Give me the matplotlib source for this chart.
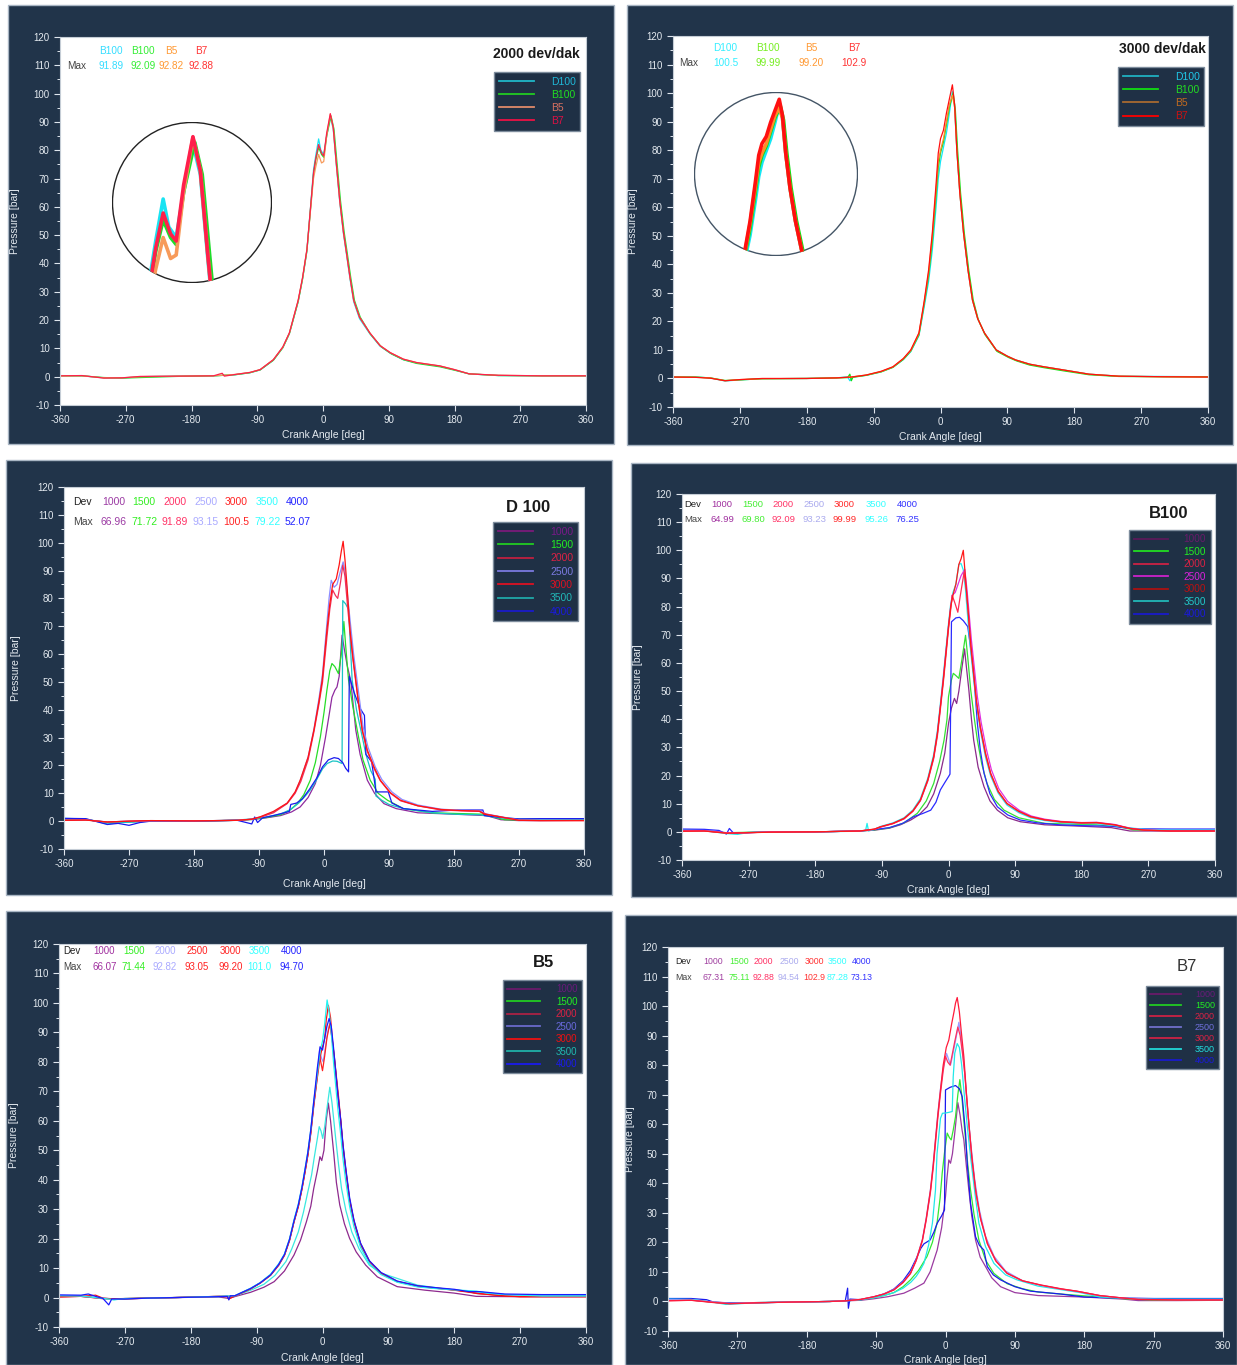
import matplotlib
matplotlib.use("Agg")
import matplotlib.pyplot as plt
from matplotlib.lines import Line2D
from matplotlib.patches import Rectangle, Circle
from matplotlib.ticker import MultipleLocator

plt.rcParams["font.family"] = ["Liberation Sans", "DejaVu Sans"]
plt.rcParams["axes.unicode_minus"] = False

W, H = 1237, 1365
NAVY = "#21344a"
LEG_BG = "#1f3045"
TXT = "#e3e9ef"

# ---------------- data (crank angle [deg], pressure [bar]) ----------------
ANGLE_TICKS = [-360, -270, -180, -90, 0, 90, 180, 270, 360]
FUELS = ["D100", "B100", "B5", "B7"]
P1_HEAD = ["B100", "B100", "B5", "B7"]
P1_MAX = [91.89, 92.09, 92.82, 92.88]
P2_MAX = [100.5, 99.99, 99.20, 102.9]
SPEEDS = ["1000", "1500", "2000", "2500", "3000", "3500", "4000"]
D100_MAX = [66.96, 71.72, 91.89, 93.15, 100.5, 79.22, 52.07]
B100_MAX = [64.99, 69.80, 92.09, 93.23, 99.99, 95.26, 76.25]
B5_MAX = [66.07, 71.44, 92.82, 93.05, 99.20, 101.0, 94.70]
B7_MAX = [67.31, 75.11, 92.88, 94.54, 102.9, 87.28, 73.13]

# 2000 dev/dak
P1_D100 = [(-360, 0.4), (-330, 0.3), (-300, -0.4), (-275, -0.5), (-250, 0), (-200, 0.2), (-150, 0.3), (-120, 0.7),
           (-100, 1.4), (-86, 2.4), (-68, 5.8), (-55, 10.3), (-46, 15.3), (-34, 26.5), (-28, 34.5), (-22, 44.5),
           (-17, 60), (-13, 73), (-10, 78), (-6, 84), (-3, 80), (1, 78.5), (5, 85), (10, 91.9), (14, 87.5),
           (18, 75.5), (23, 61.5), (28, 50.5), (32, 43.5), (37, 34.5), (42, 26.5), (50, 20.5), (64, 15.2),
           (78, 10.8), (92, 8.3), (110, 6), (128, 4.9), (160, 3.7), (180, 2.4), (200, 1), (240, 0.4), (300, 0.3),
           (360, 0.3)]
P1_B100 = [(-360, 0.3), (-330, 0.3), (-300, -0.3), (-275, -0.5), (-250, -0.3), (-200, 0.1), (-150, 0.3), (-120, 0.7),
           (-100, 1.4), (-86, 2.4), (-68, 5.8), (-55, 10.2), (-46, 15.2), (-34, 26.5), (-28, 34.5), (-22, 44.5),
           (-17, 59.5), (-13, 71.5), (-10, 76.5), (-6, 81), (-2, 78.5), (1, 77.5), (5, 85), (11, 92.1), (15, 87.5),
           (19, 76), (24, 62), (29, 51), (33, 44), (38, 35), (43, 27), (51, 21), (65, 15), (80, 10.5), (94, 8),
           (110, 6), (128, 4.7), (160, 3.5), (180, 2.3), (200, 1), (240, 0.4), (300, 0.3), (360, 0.3)]
P1_B5 = [(-360, 0.3), (-330, 0.3), (-300, -0.4), (-275, -0.4), (-250, 0), (-200, 0.2), (-150, 0.3), (-120, 0.8),
         (-100, 1.5), (-86, 2.5), (-68, 6), (-55, 10.4), (-46, 15.4), (-34, 26.8), (-28, 34.8), (-22, 44.8),
         (-17, 59), (-13, 70), (-10, 74), (-6, 78.5), (-2, 75.5), (1, 76), (5, 85), (10, 92.8), (14, 88), (18, 76),
         (23, 62), (28, 51), (32, 44), (37, 35), (42, 27), (50, 21), (64, 15.5), (78, 11), (92, 8.5), (110, 6.2),
         (128, 5), (160, 3.8), (180, 2.5), (200, 1), (240, 0.5), (300, 0.3), (360, 0.3)]
P1_B7 = [(-360, 0.3), (-330, 0.4), (-300, -0.5), (-275, -0.4), (-250, 0.1), (-200, 0.2), (-150, 0.3), (-138, 1.2),
         (-135, 0.2), (-120, 0.8), (-100, 1.5), (-86, 2.5), (-68, 6), (-55, 10.5), (-46, 15.5), (-34, 27),
         (-28, 35), (-22, 45), (-17, 60), (-13, 72), (-10, 77), (-6, 82), (-2, 79), (1, 78), (5, 86), (10, 92.9),
         (14, 88), (18, 76), (23, 62), (28, 51), (32, 44), (37, 35), (42, 27), (50, 21), (64, 15.5), (78, 11),
         (92, 8.5), (110, 6.2), (128, 5), (160, 3.8), (180, 2.5), (200, 1), (240, 0.5), (300, 0.3), (360, 0.3)]

# 3000 dev/dak
P2_D100 = [(-360, 0.5), (-330, 0.5), (-310, 0.2), (-290, -0.9), (-270, -0.5), (-240, -0.1), (-180, 0), (-140, 0.2),
           (-125, 0.6), (-122, -0.8), (-118, 0.5), (-100, 1.1), (-80, 2.3), (-64, 3.9), (-50, 6.6), (-40, 9.4),
           (-29, 15), (-22, 25), (-16, 34), (-11, 45), (-6, 60), (-3, 70), (0, 76), (4, 81), (8, 86), (12, 93),
           (16, 100.5), (19, 95), (22, 80), (26, 65), (31, 51), (37, 38), (43, 27.5), (50, 21), (59, 16), (75, 10),
           (90, 7.8), (101, 6.5), (120, 5), (139, 4.1), (165, 3), (200, 1.5), (240, 0.8), (300, 0.7), (360, 0.6)]
P2_B100 = [(-360, 0.5), (-330, 0.5), (-310, 0.2), (-290, -0.7), (-270, -0.5), (-240, -0.1), (-180, 0), (-140, 0.2),
           (-125, 0.3), (-122, 1.5), (-120, -0.8), (-118, 0.4), (-100, 1.1), (-80, 2.3), (-64, 3.9), (-50, 6.7),
           (-40, 9.6), (-29, 15.3), (-22, 26), (-16, 36), (-11, 48), (-6, 64), (-3, 74), (0, 79), (4, 83), (8, 89),
           (12, 95), (17, 100), (20, 94), (23, 80), (27, 65), (32, 51), (38, 38), (44, 27.5), (51, 20.5), (60, 15.3),
           (76, 9.5), (92, 7.3), (103, 6.1), (120, 4.7), (139, 3.8), (165, 2.7), (200, 1.3), (240, 0.7), (300, 0.6),
           (360, 0.6)]
P2_B5 = [(-360, 0.5), (-330, 0.4), (-310, 0.2), (-290, -0.8), (-270, -0.4), (-240, -0.1), (-180, 0), (-140, 0.2),
         (-120, 0.5), (-100, 1.2), (-80, 2.4), (-64, 4), (-50, 6.9), (-40, 9.8), (-29, 15.7), (-22, 26.5), (-16, 37),
         (-11, 50), (-6, 66), (-3, 76), (0, 80), (4, 84), (8, 90), (12, 96), (16, 99.2), (19, 95), (22, 80),
         (26, 65), (31, 51), (37, 38), (43, 27.5), (50, 21), (59, 16), (75, 10), (90, 7.8), (101, 6.5), (120, 5),
         (139, 4.1), (165, 3), (200, 1.5), (240, 0.8), (300, 0.6), (360, 0.5)]
P2_B7 = [(-360, 0.5), (-330, 0.4), (-310, 0.1), (-290, -0.8), (-270, -0.4), (-240, 0), (-180, 0), (-140, 0.2),
         (-120, 0.5), (-100, 1.2), (-80, 2.5), (-64, 4.1), (-50, 7), (-40, 10), (-29, 16), (-22, 27), (-16, 38),
         (-11, 51), (-6, 68), (-3, 79), (0, 84), (4, 87), (8, 93), (12, 98), (16, 102.9), (19, 96), (22, 80),
         (26, 65), (31, 51), (37, 38), (43, 27.5), (50, 21), (59, 16), (75, 10), (90, 7.8), (101, 6.5), (120, 5),
         (139, 4.1), (165, 3), (200, 1.5), (240, 0.8), (300, 0.6), (360, 0.5)]

# D 100
D100_1000 = [(-360, 0.5), (-330, 0.6), (-300, -0.5), (-280, -0.3), (-240, 0), (-180, 0), (-120, 0.3), (-100, 0.6),
             (-80, 1.2), (-60, 2), (-45, 3.3), (-33, 5.1), (-22, 8.5), (-12, 13.5), (-5, 20), (2, 30), (7, 38),
             (11, 44.5), (15, 47), (18, 48.2), (21, 52), (25, 66.8), (28, 62), (32, 56), (37, 50.5), (44, 32.7),
             (50, 24), (60, 14.7), (70, 10), (83, 6.3), (100, 4.5), (130, 3), (180, 2.5), (225, 2), (245, 0.5),
             (270, 0.2), (300, 0.2), (360, 0.3)]
D100_1500 = [(-360, 0.6), (-330, 0.5), (-300, -0.4), (-280, -0.3), (-240, 0), (-180, 0), (-120, 0.3), (-100, 0.6),
             (-80, 1.3), (-60, 2.3), (-48, 3.8), (-37, 6.3), (-28, 9.5), (-19, 14.7), (-12, 21), (-5, 30.3), (0, 39),
             (4, 47), (8, 54), (11, 56.6), (15, 55.5), (20, 53), (24, 60), (27.5, 71.7), (30, 63), (34, 50.6),
             (40, 41), (46, 32.7), (54, 22), (64, 14.7), (75, 10), (88, 7.5), (110, 4.5), (150, 3), (220, 2.5),
             (235, 1.5), (250, 0.5), (300, 0.3), (360, 0.4)]
D100_2000 = [(-360, 0.3), (-330, 0.4), (-300, -0.3), (-270, 0), (-240, 0.2), (-180, 0.1), (-120, 0.3), (-100, 0.7),
             (-88, 1.4), (-70, 3), (-51, 6.3), (-40, 10), (-32, 14.3), (-22, 22), (-14, 32), (-7, 42), (-2, 50),
             (4, 66), (8, 76), (12, 83), (16, 81), (19, 80), (23, 86), (26, 91.9), (29, 88), (33, 76), (36, 68),
             (40, 58), (44, 50), (48, 42), (53, 32.5), (60, 25), (70, 18.5), (78, 14.5), (92, 10), (106, 7.3),
             (130, 5.5), (162, 4), (190, 3.7), (215, 3.5), (225, 2.5), (245, 1.5), (260, 0.8), (270, 0.3),
             (300, 0.2), (360, 0.2)]
D100_2500 = [(-360, 0.4), (-330, 0.5), (-300, -0.3), (-270, 0), (-240, 0.1), (-180, 0.1), (-120, 0.3), (-100, 0.7),
             (-88, 1.5), (-70, 3.3), (-51, 6.4), (-40, 10.3), (-33, 14.5), (-22, 23), (-14, 33), (-7, 44), (-2, 53),
             (3, 68), (7, 80), (10, 86.5), (14, 84), (18, 85), (22, 89), (26.5, 93.1), (29, 90), (33, 80), (37, 70),
             (41, 60), (45, 52), (49, 44), (54, 34), (61, 26.5), (71, 19.5), (80, 15), (94, 10.5), (108, 7.8),
             (130, 5.8), (162, 4.3), (190, 3.9), (215, 3.7), (224, 2.6), (245, 1.6), (262, 0.8), (272, 0.4),
             (300, 0.3), (360, 0.3)]
D100_3000 = [(-360, 0.3), (-330, 0.4), (-300, -0.3), (-270, 0), (-240, 0.2), (-180, 0.1), (-120, 0.3), (-100, 0.7),
             (-88, 1.6), (-70, 3.5), (-51, 6.5), (-40, 10.5), (-33, 14.7), (-22, 23), (-14, 32.7), (-7, 43),
             (-2.5, 50.6), (4, 68.6), (8, 78), (12, 85), (17, 87), (21, 92), (24, 97), (26.5, 100.5), (29, 94),
             (32, 84), (36, 68.6), (40, 59), (44, 50.6), (48, 42), (53, 32.7), (60, 25.5), (70, 19), (78, 14.7),
             (92, 10.2), (106, 7.5), (130, 5.5), (162, 4.2), (190, 3.8), (215, 3.6), (222, 2.5), (245, 1.5),
             (260, 0.8), (270, 0.3), (300, 0.2), (360, 0.2)]
D100_3500 = [(-360, 1.0), (-330, 0.8), (-300, -1.0), (-280, -0.5), (-240, 0), (-180, 0), (-120, 0.4), (-100, 0.8),
             (-80, 1.5), (-60, 2.6), (-46, 4.2), (-35, 6.5), (-26, 9), (-19, 11.2), (-10, 15), (-2, 18.8), (4.4, 20.7),
             (12, 21.6), (18, 21.5), (25, 20.7), (26, 79.2), (30, 78), (34, 76), (39, 50.6), (45, 40), (51, 32.7),
             (58, 24), (65, 18), (71, 15), (72, 9), (80, 7.5), (90, 6), (110, 4.5), (150, 3), (180, 2.5), (215, 2.3),
             (240, 1.3), (270, 0.8), (300, 0.8), (360, 0.8)]
D100_4000 = [(-360, 1.0), (-330, 0.9), (-300, -1.2), (-285, -0.8), (-270, -1.5), (-255, -0.5), (-240, 0), (-180, 0),
             (-120, 0.3), (-100, -1.0), (-96, 1.5), (-92, -0.5), (-85, 1.2), (-70, 2), (-55, 3), (-48, 3.5),
             (-46, 6), (-38, 6.5), (-30, 8), (-20, 11.5), (-10, 15.5), (-2, 19.5), (6, 22), (14, 22.8), (20, 22.5),
             (26, 21), (30, 19), (34, 17.7), (35, 52), (42, 46), (50, 40.5), (56, 38), (58, 24), (66, 21.3),
             (72, 10.5), (89, 10.5), (94, 6.5), (110, 4.5), (150, 3.5), (185, 4), (220, 4), (222, 2), (250, 1.2),
             (270, 0.8), (300, 0.9), (360, 0.9)]

# B100
B100_1000 = [(-360, 0.6), (-330, 0.5), (-300, -0.4), (-280, -0.3), (-240, 0), (-180, 0), (-120, 0.3), (-100, 0.6),
             (-80, 1.3), (-65, 2.5), (-51, 4.2), (-40, 6), (-29, 8.9), (-20, 13.5), (-11, 20.8), (-5, 28), (0, 38.5),
             (4, 44), (8, 47.4), (11, 45.6), (14, 50), (18, 58), (21.7, 65), (24, 59), (27.5, 50.4), (31, 40),
             (34, 32.6), (40, 23), (48, 16), (56, 11), (66, 7.7), (80, 5), (97, 3.6), (130, 2.5), (180, 2),
             (220, 1.5), (245, 0.3), (300, 0.3), (360, 0.4)]
B100_1500 = [(-360, 0.5), (-330, 0.4), (-300, -0.3), (-280, -0.2), (-240, 0), (-180, 0), (-120, 0.3), (-100, 0.7),
             (-80, 1.4), (-60, 3.2), (-42, 6.6), (-30, 11), (-20, 17.2), (-12, 25), (-6, 32.6), (-2, 40), (0, 48),
             (4, 54), (6.5, 56.3), (10, 55.5), (14, 54.5), (18, 61), (23, 69.8), (26, 62), (30, 50.4), (35, 40),
             (39, 32.6), (45, 24), (52, 17.2), (62, 11.5), (75, 7.7), (95, 5), (130, 3), (200, 2.5), (230, 1.8),
             (250, 0.7), (300, 0.5), (360, 0.5)]
B100_2000 = [(-360, 0.3), (-330, 0.3), (-300, -0.4), (-280, -0.3), (-240, -0.1), (-180, 0), (-120, 0.3), (-100, 0.9),
             (-92, 1.7), (-75, 2.9), (-60, 4.6), (-48, 7.3), (-38, 11), (-28, 18), (-20, 26), (-15, 34), (-11, 43.5),
             (-7, 53), (-4, 61), (0, 72), (3, 79), (5, 84), (9, 81), (12.6, 78), (16, 84), (21, 92.1), (24, 86),
             (27, 77), (30, 66), (34, 55.5), (38, 45.5), (43, 37), (50, 27.5), (57, 20.5), (67, 14.3), (79, 10),
             (95, 7.2), (111, 5.3), (130, 4.2), (152, 3.5), (180, 3.1), (200, 3.2), (225, 2.4), (245, 1.2),
             (265, 0.6), (300, 0.3), (360, 0.3)]
B100_2500 = [(-360, 0.4), (-330, 0.4), (-300, -0.3), (-280, -0.4), (-240, 0), (-180, 0), (-120, 0.3), (-100, 0.9),
             (-92, 1.7), (-75, 3), (-60, 4.7), (-48, 7.4), (-38, 11.2), (-28, 18.3), (-20, 26.5), (-15, 35),
             (-11, 44.5), (-7, 54.5), (-4, 62.5), (0, 73), (3, 80), (5, 84), (9, 85), (13, 88), (17, 91), (22, 93.2),
             (25, 86), (28, 77), (31, 68), (35, 58), (39, 48), (44, 39), (51, 29.5), (58, 22), (68, 15.3), (80, 10.8),
             (96, 7.6), (112, 5.6), (130, 4.5), (152, 3.7), (180, 3.3), (200, 3.4), (225, 2.6), (245, 1.3),
             (265, 0.7), (300, 0.4), (360, 0.4)]
B100_3000 = [(-360, 0.2), (-330, 0.3), (-300, -0.5), (-280, -0.4), (-240, -0.1), (-180, 0), (-120, 0.3), (-100, 1.0),
             (-92, 1.8), (-75, 3), (-60, 4.8), (-48, 7.5), (-38, 11.3), (-28, 18.5), (-20, 26.7), (-15, 35),
             (-11, 44.4), (-7, 54), (-4, 62.2), (0, 73), (3, 80), (6, 84), (10, 88), (14, 95), (17, 97), (20, 100),
             (23, 90), (26, 80), (30, 67), (34, 56.3), (38, 46), (43, 37.3), (50, 28), (57, 20.8), (67, 14.5),
             (79, 10.1), (95, 7.3), (111, 5.4), (130, 4.3), (152, 3.6), (180, 3.2), (200, 3.3), (225, 2.5),
             (245, 1.2), (265, 0.6), (300, 0.3), (360, 0.3)]
B100_3500 = [(-360, 0.5), (-330, 0.4), (-300, -0.6), (-285, -0.9), (-270, -0.2), (-240, 0), (-180, 0), (-125, 0.2),
             (-112, 0.5), (-110, 3), (-108, 0.3), (-100, 0.9), (-92, 1.9), (-75, 3.2), (-60, 5), (-48, 7.8),
             (-38, 11.8), (-28, 19), (-20, 27.5), (-15, 36), (-11, 45.5), (-7, 55.5), (-4, 63.5), (0, 74), (3, 81),
             (6, 85), (10, 88), (14, 95), (17, 95.3), (20, 93), (23, 86), (26, 76), (30, 64), (34, 54), (38, 45),
             (43, 36), (50, 26.5), (57, 19.8), (67, 13.8), (79, 9.5), (95, 6.8), (111, 5), (130, 4), (152, 3.3),
             (180, 2.9), (200, 2.9), (225, 2.2), (245, 1.4), (265, 0.9), (300, 0.6), (360, 0.6)]
B100_4000 = [(-360, 1.0), (-330, 0.9), (-310, 0.5), (-300, -0.8), (-296, 1.2), (-290, -0.6), (-270, -0.3),
             (-240, 0), (-180, 0), (-120, 0.3), (-100, 0.8), (-80, 1.5), (-62, 3), (-47, 5.4), (-35, 6.5),
             (-24, 7.7), (-17, 10.5), (-11, 14.9), (-5, 17.5), (0, 19.6), (2, 20.5), (4, 74.6), (10, 76),
             (15, 76.2), (20, 75), (26, 72.9), (30, 65), (34, 56.3), (39, 38.5), (43, 29), (48, 20.8), (56, 13.5),
             (66, 8.9), (80, 6), (97, 4.2), (120, 3.2), (150, 2.5), (180, 2.2), (220, 2), (250, 1.1), (300, 1),
             (360, 1)]

# B5
B5_1000 = [(-360, 0.3), (-330, 0.4), (-300, -0.3), (-280, -0.5), (-250, -0.3), (-200, 0), (-142, 0.2), (-128, -0.3),
           (-120, 0.3), (-98, 1.8), (-80, 3.5), (-66, 5.4), (-52, 9), (-39, 14.4), (-30, 19.5), (-22, 25.7),
           (-16, 31), (-12, 37), (-7, 43), (-3.5, 47.8), (-1, 46.5), (2, 50), (5, 60), (8, 66), (11, 60),
           (15.6, 48.4), (19, 39), (23.6, 31.4), (30, 25), (37, 20.1), (46, 15.5), (59, 11), (75, 7), (102, 3.7),
           (140, 2.5), (180, 1.5), (210, 0.4), (260, 0.3), (300, 0.3), (360, 0.3)]
B5_1500 = [(-360, 0.5), (-330, 0.5), (-300, -0.3), (-285, -0.8), (-270, -0.3), (-240, -0.1), (-200, 0), (-142, 0.3),
           (-120, 0.5), (-98, 2.5), (-80, 4.5), (-65, 7.5), (-50, 12.2), (-42, 16.5), (-33, 22.3), (-26, 29),
           (-20, 35.9), (-15, 41.5), (-11.5, 47.2), (-7, 54), (-4.5, 58), (-2, 56.5), (0.3, 54), (3, 58), (6, 64),
           (10, 71.4), (13, 66), (18, 54), (22, 45), (26, 37), (32, 29.5), (40, 22.3), (50, 16.5), (64, 11),
           (80, 8.3), (102, 6.5), (130, 4.2), (180, 2.5), (215, 1.8), (250, 1), (300, 0.6), (360, 0.6)]
B5_2000 = [(-360, 0.5), (-330, 0.4), (-300, -0.2), (-280, -0.5), (-250, -0.2), (-200, 0), (-142, 0.4), (-120, 0.5),
           (-98, 3), (-85, 4.9), (-71, 7.5), (-60, 10.8), (-52, 14.2), (-45, 19.3), (-39, 25.5), (-33, 30.8),
           (-28, 36.8), (-24, 42.3), (-20, 48.2), (-16, 55.5), (-12, 64.5), (-7, 75), (-4, 84), (-1, 81), (1, 80),
           (4, 85), (7, 90), (10, 92.8), (13, 88), (16, 82), (19, 74), (22, 67), (25, 59.5), (28, 51), (32, 42.7),
           (37, 33), (43, 25.7), (52, 18), (64, 12.2), (80, 8.2), (102, 5.4), (130, 3.8), (157, 3.1), (180, 2.6),
           (200, 2), (211, 1.3), (249, 0.8), (270, 0.6), (300, 0.4), (360, 0.4)]
B5_2500 = [(-360, 0.3), (-330, 0.4), (-300, -0.4), (-280, -0.4), (-250, -0.2), (-200, 0), (-142, 0.4), (-120, 0.5),
           (-98, 3), (-85, 4.9), (-71, 7.6), (-60, 11), (-52, 14.4), (-45, 19.5), (-39, 25.7), (-33, 31), (-28, 37),
           (-24, 42.5), (-20, 48.4), (-16, 56), (-12, 65.3), (-7, 76), (-4, 82), (0, 77), (3, 82), (6, 88),
           (10, 93), (13, 88), (16, 82), (19, 75), (22, 68), (25, 60), (28, 51.5), (32, 43), (37, 33.3), (43, 26),
           (52, 18.3), (64, 12.4), (80, 8.3), (102, 5.5), (130, 3.9), (157, 3.2), (180, 2.6), (200, 2), (211, 1.4),
           (249, 0.6), (270, 0.3), (300, 0.3), (360, 0.3)]
B5_3000 = [(-360, 0.2), (-330, 0.4), (-310, 0.8), (-300, -0.2), (-280, -0.6), (-250, -0.3), (-200, 0), (-142, 0.4),
           (-130, 0.3), (-128, -0.5), (-120, 0.5), (-98, 3), (-85, 5), (-71, 7.6), (-60, 11), (-52, 14.4),
           (-45, 19.5), (-39, 25.7), (-33, 31), (-28, 37), (-24, 42.5), (-20, 48.4), (-16, 56), (-12, 65.3),
           (-6, 76.6), (-3, 82), (0, 85), (3, 88), (5, 94), (8, 99.2), (11, 95), (14, 86), (18, 76.6), (21, 69),
           (25, 59.7), (28, 51), (32, 42.7), (37, 33), (43, 25.7), (52, 18), (64, 12.2), (80, 8.2), (102, 5.4),
           (130, 3.8), (157, 3.1), (180, 2.5), (211, 1.4), (249, 0.5), (270, 0.3), (300, 0.3), (360, 0.3)]
B5_3500 = [(-360, 0.6), (-330, 0.5), (-300, -0.3), (-285, -0.7), (-270, -0.4), (-240, -0.2), (-200, 0), (-142, 0.4),
           (-120, 0.6), (-98, 3.2), (-85, 5.1), (-71, 7.9), (-60, 11.4), (-52, 14.8), (-45, 20), (-39, 26.3),
           (-33, 31.8), (-28, 37.8), (-24, 43.5), (-20, 49.5), (-16, 57), (-12, 66.5), (-6, 78), (-3, 84), (0, 87),
           (3, 93), (6.3, 101), (9, 97), (12, 90), (15, 80), (18, 72), (21, 64), (25, 55), (28, 47), (32, 39),
           (37, 31), (43, 24), (52, 17), (64, 11.5), (80, 7.8), (102, 5.2), (130, 3.6), (157, 3), (180, 2.6),
           (210, 2.2), (225, 1.5), (249, 1), (300, 0.5), (360, 0.5)]
B5_4000 = [(-360, 0.9), (-330, 0.8), (-320, 1.2), (-310, 0.4), (-300, -0.3), (-292, -2.5), (-288, -0.5), (-270, -0.5),
           (-240, -0.2), (-200, 0), (-142, 0.3), (-130, 0.4), (-128, -0.8), (-126, 0.6), (-120, 0.6), (-98, 3.1),
           (-85, 5), (-71, 7.7), (-60, 11.2), (-52, 14.6), (-45, 19.8), (-39, 26), (-33, 31.5), (-28, 37.5),
           (-24, 43.3), (-20, 49.3), (-16, 57), (-12, 66.5), (-7, 78), (-3.4, 85.1), (0, 84), (3, 88), (6, 92),
           (9, 94.7), (12, 92), (15, 85), (18, 77), (21, 69), (25, 60), (28, 52), (32, 43.5), (37, 34), (43, 26.3),
           (52, 18.5), (64, 12.5), (80, 8.5), (102, 5.6), (130, 4), (157, 3.3), (180, 2.8), (200, 2), (215, 2),
           (249, 1.2), (300, 1), (360, 1)]

# B7
B7_1000 = [(-360, 0.4), (-330, 0.5), (-300, -0.2), (-280, -0.5), (-250, -0.4), (-200, -0.2), (-150, 0), (-130, 0.2),
           (-110, 0.4), (-93, 0.9), (-75, 1.6), (-54, 2.8), (-40, 4.5), (-28, 6.2), (-20, 10), (-10.8, 17.4),
           (-5, 25), (0, 35.5), (2, 42), (4.3, 47.9), (6.5, 46.8), (9, 50), (12, 57), (16, 67.3), (19, 63),
           (21.5, 58), (23.8, 54.7), (27, 46), (30.3, 37.7), (34, 29), (39, 20.8), (45, 15), (52, 11.8), (60, 8),
           (71.5, 5), (90, 3), (120, 2), (180, 1.5), (230, 0.8), (250, 0.3), (300, 0.3), (360, 0.4)]
B7_1500 = [(-360, 0.5), (-330, 0.5), (-300, -0.3), (-280, -0.6), (-250, -0.4), (-200, -0.2), (-150, 0), (-130, 0.2),
           (-110, 0.6), (-93, 1.3), (-80, 2), (-67, 3), (-55, 5), (-45.5, 7.3), (-35, 10.5), (-24, 15.2), (-17, 20),
           (-11, 26.5), (-7, 35), (-4.3, 43.4), (-1, 51), (2.2, 57), (5, 55.5), (7.4, 54.7), (10, 58), (13, 62.6),
           (16, 70), (18.6, 75.1), (21, 70), (23.5, 62), (26, 54.7), (29, 46), (32.5, 37.7), (37, 29.5),
           (43.3, 20.8), (52, 14), (62.8, 9.5), (80, 6), (100, 4.3), (120, 3.2), (150, 2.5), (200, 1.5), (240, 0.8),
           (270, 0.5), (300, 0.5), (360, 0.5)]
B7_2000 = [(-360, 0.3), (-330, 0.4), (-300, -0.3), (-280, -0.7), (-250, -0.5), (-200, -0.2), (-150, 0), (-130, 0.2),
           (-110, 0.7), (-93, 1.6), (-80, 2.5), (-67, 3.9), (-55, 6.4), (-45.5, 9.4), (-38, 13.8), (-30, 20.5),
           (-25, 27.5), (-19.5, 37), (-16, 45), (-13, 53.5), (-10, 62), (-6.5, 70.5), (-3, 78), (0, 83), (3, 81),
           (6, 80), (9, 84), (12, 88), (16, 92.9), (19, 90), (22, 84), (25, 77), (28, 67), (31, 58), (35, 47),
           (40, 36), (46, 27.5), (55, 19.3), (66, 13.5), (80, 9.5), (100, 7), (123.5, 5.5), (150, 4.2), (170, 3.5),
           (200, 2), (225, 1.3), (250, 0.7), (300, 0.5), (360, 0.5)]
B7_2500 = [(-360, 0.6), (-330, 0.5), (-300, -0.2), (-280, -0.6), (-250, -0.4), (-200, -0.2), (-150, 0), (-130, 0.2),
           (-110, 0.7), (-93, 1.6), (-80, 2.6), (-67, 4), (-55, 6.6), (-45.5, 9.6), (-38, 14.1), (-30, 21),
           (-25, 28.3), (-19.5, 38), (-16, 46.5), (-13, 55), (-10, 63.5), (-6.5, 72), (-3, 79), (1.3, 84), (4, 82),
           (6.5, 80), (9, 83), (12, 87), (15, 91), (17.3, 94.5), (20, 90), (23, 83), (26, 74), (29, 64), (33, 53),
           (38, 41), (44, 31), (52, 22), (63, 15.3), (78, 10.3), (100, 7), (123.5, 5.5), (150, 4.2), (170, 3.4),
           (200, 2), (225, 1.3), (250, 0.8), (300, 0.6), (360, 0.6)]
B7_3000 = [(-360, 0.2), (-330, 0.4), (-300, -0.4), (-280, -0.8), (-250, -0.5), (-200, -0.2), (-150, 0), (-130, 0.2),
           (-110, 0.7), (-93, 1.6), (-80, 2.5), (-67, 3.9), (-55, 6.5), (-45.5, 9.5), (-38, 14), (-30, 20.8),
           (-25, 28), (-19.5, 37.7), (-16, 46), (-13, 54.7), (-10, 63), (-6.5, 71.6), (-3, 80), (1, 86),
           (4.3, 88.5), (8, 94), (11, 98), (13, 101), (15.2, 102.9), (18, 98), (21, 90), (23.8, 82.9), (27, 71),
           (30.3, 60.3), (34, 49), (39, 37.7), (45, 28.5), (54, 19.7), (65, 13.8), (80, 9.5), (100, 7),
           (123.5, 5.6), (150, 4.3), (170, 3.5), (200, 2), (225, 1.3), (250, 0.7), (300, 0.5), (360, 0.5)]
B7_3500 = [(-360, 0.8), (-330, 0.7), (-300, -0.3), (-285, -1.0), (-270, -0.8), (-250, -0.5), (-200, -0.2),
           (-150, 0), (-130, 0.2), (-110, 0.6), (-93, 1.3), (-80, 2), (-67, 3), (-55, 4.5), (-45, 6.5), (-38, 8.5),
           (-33, 10.5), (-28, 12.9), (-22, 19), (-17, 26.5), (-13, 37.7), (-11, 50), (-8, 58), (-6.5, 62),
           (-4, 63.7), (0, 63.8), (4, 64), (8.7, 64.3), (10, 76), (12, 84), (15.2, 87.3), (18, 86), (21, 80),
           (23.8, 71.6), (28, 60), (32.5, 49), (38, 37), (43.3, 26.5), (52, 18.5), (62.8, 12.9), (78, 9),
           (93, 7.3), (120, 5.2), (150, 4), (175, 3), (200, 1.5), (240, 1), (270, 0.8), (300, 0.8), (360, 0.8)]
B7_4000 = [(-360, 1.0), (-330, 1.0), (-310, 0.6), (-300, -0.3), (-280, -0.5), (-250, -0.5), (-200, -0.2),
           (-150, 0), (-130, 0.2), (-127, 4.5), (-126, -2.3), (-124, 0.8), (-110, 0.6), (-93, 1.5), (-80, 2.5),
           (-67, 4.2), (-55, 7), (-45.5, 10.5), (-38, 14.5), (-32, 18), (-28, 19.5), (-20, 20.8), (-15, 23.5),
           (-10.8, 26.5), (-5, 29), (-1.3, 31), (0, 71.6), (6, 72.5), (13, 73.1), (18, 72), (21.7, 69.3), (26, 57),
           (28.2, 46.8), (32.5, 33.2), (39, 21.9), (44, 19), (49.8, 17.4), (54.2, 11.8), (62, 9), (71.5, 7.3),
           (90, 5), (110, 3.5), (150, 2.5), (180, 1.5), (220, 1.2), (270, 1), (300, 1), (360, 1)]


# ---------------- drawing ----------------
def frac(x0, y0, x1, y1):
    return [x0 / W, 1 - y1 / H, (x1 - x0) / W, (y1 - y0) / H]


def panel(fig, frame, box, curves, colors, ylab, xlab):
    x0, y0, x1, y1 = frame
    fig.add_artist(Rectangle((x0 / W, 1 - y1 / H), (x1 - x0) / W, (y1 - y0) / H,
                             transform=fig.transFigure, facecolor=NAVY,
                             edgecolor="#a9b6c4", lw=1, zorder=-5))
    ax = fig.add_axes(frac(*box))
    for pts, c in zip(curves, colors):
        a, p = zip(*pts)
        ax.plot(a, p, color=c, lw=0.9)
    ax.set_xlim(-360, 360)
    ax.set_ylim(-10, 120)
    ax.set_xticks(ANGLE_TICKS)
    ax.yaxis.set_major_locator(MultipleLocator(10))
    ax.yaxis.set_minor_locator(MultipleLocator(5))
    ax.tick_params(colors="#dfe6ee", labelcolor=TXT, labelsize=7, length=4, width=0.8)
    ax.tick_params(which="minor", length=2, width=0.7, colors="#dfe6ee")
    for s in ax.spines.values():
        s.set_color("#c5cdd6")
        s.set_linewidth(0.8)
    ax.set_xlabel("Crank Angle [deg]", color=TXT, fontsize=7.5)
    ax.set_ylabel("Pressure [bar]", color=TXT, fontsize=7.5)
    ax.yaxis.set_label_coords(ylab, 0.5)
    ax.xaxis.set_label_coords(0.5, xlab)
    return ax


def fmt(v):
    return f"{v:.2f}" if v < 100 else f"{v:.1f}"


def header(ax, names, values, colors, xs, yn, yv, xk, fs, dev=True):
    kw = dict(transform=ax.transAxes, va="center", fontsize=fs)
    if dev:
        ax.text(xk, yn, "Dev", color="#222222", ha="left", **kw)
    ax.text(xk, yv, "Max", color="#444444", ha="left", **kw)
    for n, v, c, x in zip(names, values, colors, xs):
        ax.text(x, yn, n, color=c, ha="center", **kw)
        ax.text(x, yv, fmt(v), color=c, ha="center", **kw)


def legend(ax, labels, lcolors, tcolors, anchor, fs, spacing):
    handles = [Line2D([], [], color=c, lw=1.3) for c in lcolors]
    ax.legend(handles, labels, loc="upper right", bbox_to_anchor=anchor, borderaxespad=0,
              facecolor=LEG_BG, edgecolor="#7d8c9c", framealpha=1, fancybox=False,
              fontsize=fs, labelcolor=tcolors, handlelength=3.4, handletextpad=1.6,
              borderpad=0.45, labelspacing=spacing)


def title(ax, text, x, y, fs, bold=True):
    ax.text(x, y, text, transform=ax.transAxes, ha="center", va="center", fontsize=fs,
            fontweight="bold" if bold else "normal", color="#1a1a1a" if bold else "#333333")


def inset(fig, box, curves, colors, xlim, ylim, edge):
    ia = fig.add_axes(frac(*box))
    ia.set_xlim(*xlim)
    ia.set_ylim(*ylim)
    ia.axis("off")
    clip = Circle((0.5, 0.5), 0.5, transform=ia.transAxes)
    for pts, c in zip(curves, colors):
        a, p = zip(*pts)
        ln, = ia.plot(a, p, color=c, lw=2.6, solid_capstyle="butt")
        ln.set_clip_path(clip)
    ia.add_patch(Circle((0.5, 0.5), 0.497, transform=ia.transAxes, fill=False, ec=edge, lw=1.0))


fig = plt.figure(figsize=(W / 100, H / 100), dpi=100)
fig.patch.set_facecolor("white")

# --- 2000 dev/dak ---
c1 = ["#19e3f2", "#1fdc2a", "#f79a5a", "#ff1f4b"]
fuel1 = [P1_D100, P1_B100, P1_B5, P1_B7]
ax1 = panel(fig, (8, 5, 614, 444), (60, 37, 586, 405), fuel1, c1, -0.076, -0.068)
header(ax1, P1_HEAD, P1_MAX, ["#33ddff", "#33ee33", "#ff9933", "#ff3333"],
       [0.097, 0.158, 0.211, 0.268], 0.962, 0.921, 0.013, 7.2, dev=False)
legend(ax1, FUELS, ["#1fb8c8", "#22cc22", "#e08a6a", "#ee1144"],
       ["#1fb8d8", "#22dd22", "#d87060", "#dd1144"], (0.989, 0.905), 7.5, 0.3)
title(ax1, "2000 dev/dak", 0.905, 0.954, 10)
inset(fig, (112, 122, 272, 283), fuel1, c1, (-33.5, 52.5), (72, 95), "#222222")

# --- 3000 dev/dak ---
c2 = ["#14e6f5", "#12e012", "#ff8c2a", "#ff1010"]
fuel2 = [P2_D100, P2_B100, P2_B5, P2_B7]
ax2 = panel(fig, (627, 5, 1233, 445), (673, 36, 1208, 407), fuel2, c2, -0.065, -0.067)
header(ax2, FUELS, P2_MAX, ["#33eeff", "#77ee22", "#ff9933", "#ff3333"],
       [0.098, 0.178, 0.259, 0.338], 0.968, 0.927, 0.011, 7.2, dev=False)
legend(ax2, FUELS, ["#1fb0c0", "#11dd11", "#a86a30", "#ff0000"],
       ["#20c8e8", "#22dd22", "#c06a20", "#cc1111"], (0.993, 0.916), 7.5, 0.3)
title(ax2, "3000 dev/dak", 0.914, 0.965, 10)
inset(fig, (694, 92, 858, 256), fuel2, c2, (-63, 89), (36, 106), "#445566")

# --- D 100 ---
ax3 = panel(fig, (6, 460, 612, 895), (64, 487, 584, 849),
            [D100_1000, D100_1500, D100_3500, D100_4000, D100_2500, D100_2000, D100_3000],
            ["#8e2a9e", "#27dd27", "#19c4c4", "#1a1aee", "#8c8cff", "#f0305a", "#ff1414"], -0.083, -0.083)
header(ax3, SPEEDS, D100_MAX, ["#9b3aa3", "#33ee22", "#ff3366", "#aaaaff", "#ff2222", "#33ffff", "#2222ff"],
       [0.096, 0.154, 0.213, 0.273, 0.332, 0.391, 0.449], 0.959, 0.904, 0.018, 7.5)
legend(ax3, SPEEDS, ["#7a1a7a", "#22cc22", "#c02040", "#7a7ae0", "#dd1122", "#20a8a8", "#1a1acc"],
       ["#7a1a8a", "#22ee22", "#dd2244", "#7a7ae0", "#dd1122", "#22b8b8", "#1a1add"], (0.988, 0.903), 7.5, 0.32)
title(ax3, "D 100", 0.893, 0.944, 12)

# --- B100 ---
ax4 = panel(fig, (631, 463, 1237, 897), (682, 494, 1215, 860),
            [B100_1000, B100_1500, B100_4000, B100_3500, B100_2500, B100_2000, B100_3000],
            ["#8a2a8a", "#33e033", "#2a2aff", "#22eeee", "#e030e0", "#ff2a55", "#ff1a1a"], -0.074, -0.068)
header(ax4, SPEEDS, B100_MAX, ["#a0309f", "#44ee33", "#ff3366", "#aaaaee", "#ff2a2a", "#33ffff", "#3333ff"],
       [0.075, 0.133, 0.19, 0.248, 0.305, 0.365, 0.423], 0.97, 0.929, 0.005, 6.8)
legend(ax4, SPEEDS, ["#5a1a5a", "#22dd22", "#cc2244", "#cc22cc", "#aa1111", "#22b8b8", "#1a1acc"],
       ["#6a1a6a", "#22ee22", "#dd2244", "#dd22dd", "#bb1111", "#22c8c8", "#1a1add"], (0.992, 0.902), 7.2, 0.25)
title(ax4, "B100", 0.913, 0.947, 12)

# --- B5 ---
ax5 = panel(fig, (6, 911, 612, 1365), (59, 944, 586, 1327),
            [B5_1000, B5_1500, B5_2000, B5_2500, B5_3000, B5_3500, B5_4000],
            ["#8e2a8e", "#3ae8e0", "#9a9aff", "#ff2020", "#ff1010", "#22f2f2", "#1a1aff"], -0.076, -0.067)
header(ax5, SPEEDS, B5_MAX, ["#a0309f", "#33ee22", "#aaaaff", "#ff2222", "#ff2222", "#33ffff", "#2222ff"],
       [0.086, 0.142, 0.201, 0.262, 0.325, 0.381, 0.442], 0.982, 0.941, 0.009, 7)
legend(ax5, SPEEDS, ["#6a1a6a", "#22cc22", "#aa2244", "#6a6acc", "#ee1111", "#20b0a8", "#1a1aee"],
       ["#6a1a7a", "#22ee22", "#dd2244", "#6a6add", "#ee1111", "#20b8b0", "#1a1aee"], (0.992, 0.906), 7, 0.25)
title(ax5, "B5", 0.92, 0.952, 12)

# --- B7 ---
ax6 = panel(fig, (625, 915, 1237, 1365), (668, 947, 1223, 1331),
            [B7_1000, B7_1500, B7_4000, B7_3500, B7_2500, B7_2000, B7_3000],
            ["#9a3aa0", "#33e633", "#1a1aee", "#22e8e8", "#9a9aff", "#ff3060", "#ff1a3a"], -0.059, -0.0625)
header(ax6, SPEEDS, B7_MAX, ["#a040a0", "#44ee33", "#ff3366", "#aaaaee", "#ff3333", "#33ffff", "#3333ff"],
       [0.082, 0.128, 0.172, 0.218, 0.263, 0.305, 0.348], 0.962, 0.921, 0.013, 6.3)
legend(ax6, SPEEDS, ["#6a1a6a", "#22cc22", "#cc2244", "#7070cc", "#cc2244", "#22d8d8", "#1a1acc"],
       ["#6a1a7a", "#22ee22", "#dd2244", "#7070dd", "#dd2244", "#22e0e0", "#1a1add"], (0.993, 0.898), 6.5, 0.22)
title(ax6, "B7", 0.935, 0.949, 12, bold=False)

fig.savefig("out.png", dpi=100)
